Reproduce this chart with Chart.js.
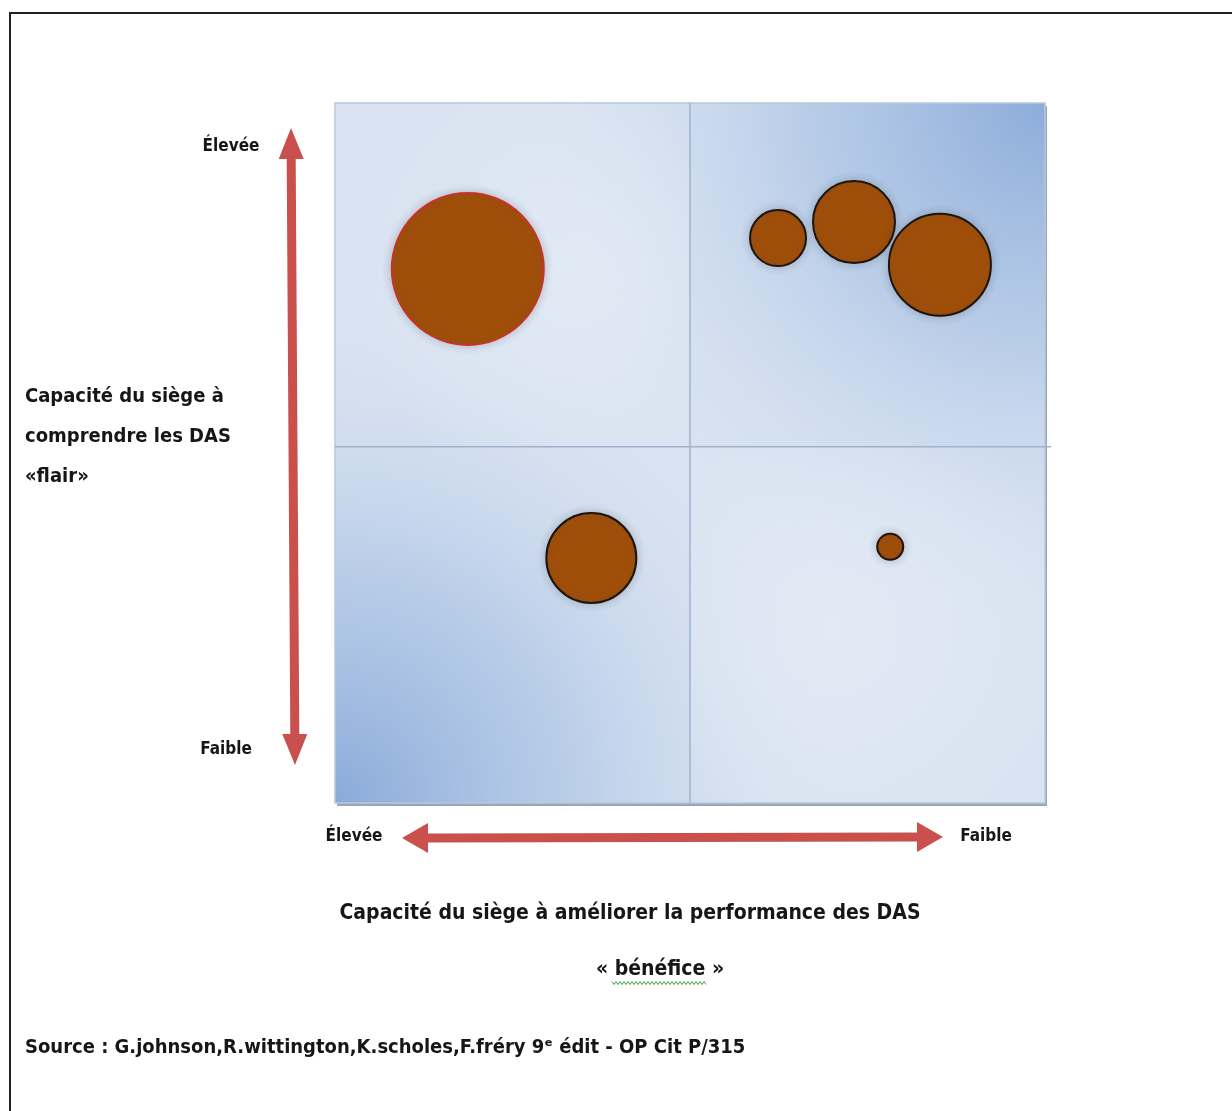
<!DOCTYPE html>
<html>
<head>
<meta charset="utf-8">
<title>Matrice parentale</title>
<script src="https://cdn.jsdelivr.net/npm/chart.js@4.4.1/dist/chart.umd.min.js"></script>
<style>
  html, body { margin: 0; padding: 0; background: #fff; }
  canvas { display: block; }
</style>
</head>
<body>
<canvas id="matrix" width="1232" height="1111"></canvas>
<script>
// DATA (bubble positions on a 0-10 grid, radius in px)
const bubbleX = [1.87, 6.24, 7.31, 8.52, 3.61, 7.82];
const bubbleY = [7.63, 8.07, 8.30, 7.69, 3.50, 3.66];
const bubbleR = [76, 28, 41, 51, 45, 13];

// quadrant split values
const splitX = 5;
const splitY = 5.09;

// texts
const yEndLabels = ["Élevée", "Faible"];
const xEndLabels = ["Élevée", "Faible"];
const yTitle = ["Capacité du siège à", "comprendre les DAS", "«flair»"];
const xTitle = ["Capacité du siège à améliorer la performance des DAS", "« bénéfice »"];
const sourceText = "Source : G.johnson,R.wittington,K.scholes,F.fréry 9\u1d49 édit - OP Cit P/315";

const FONT = '"Liberation Sans Narrow", "DejaVu Sans Condensed", Arial, sans-serif';
const ARROW_RED = "#c9504c";

let points = bubbleX.map((x, i) => ({ x: x, y: bubbleY[i], r: bubbleR[i] }));

// draw a double arrow between two points
function doubleArrow(ctx, x1, y1, x2, y2, shaft, headW, headL) {
  const ang = Math.atan2(y2 - y1, x2 - x1);
  const len = Math.hypot(x2 - x1, y2 - y1);
  ctx.save();
  ctx.translate(x1, y1);
  ctx.rotate(ang);
  ctx.fillStyle = ARROW_RED;
  ctx.beginPath();
  ctx.moveTo(0, 0);
  ctx.lineTo(headL, -headW / 2);
  ctx.lineTo(headL, -shaft / 2);
  ctx.lineTo(len - headL, -shaft / 2);
  ctx.lineTo(len - headL, -headW / 2);
  ctx.lineTo(len, 0);
  ctx.lineTo(len - headL, headW / 2);
  ctx.lineTo(len - headL, shaft / 2);
  ctx.lineTo(headL, shaft / 2);
  ctx.lineTo(headL, headW / 2);
  ctx.closePath();
  ctx.fill();
  ctx.restore();
}

// PLOT BACKGROUND + QUADRANTS
const matrixBackground = {
  id: "matrixBackground",
  beforeDatasetsDraw(chart) {
    const { ctx, chartArea: a, scales } = chart;
    const w = a.right - a.left, h = a.bottom - a.top;
    ctx.save();

    // shadow under the plot
    ctx.fillStyle = "#9aa6b6";
    ctx.fillRect(a.left + 2, a.bottom - 1, w, 4);
    ctx.fillRect(a.right - 1, a.top + 3, 3, h);

    ctx.fillStyle = "#d9e3f1";
    ctx.fillRect(a.left, a.top, w, h);

    let g = ctx.createRadialGradient(a.right, a.top, 0, a.right, a.top, w * 0.75);
    g.addColorStop(0, "rgba(140,172,218,1)");
    g.addColorStop(0.45, "rgba(170,195,228,0.7)");
    g.addColorStop(1, "rgba(217,227,241,0)");
    ctx.fillStyle = g;
    ctx.fillRect(a.left, a.top, w, h);

    g = ctx.createRadialGradient(a.left, a.bottom, 0, a.left, a.bottom, w * 0.72);
    g.addColorStop(0, "rgba(138,170,217,1)");
    g.addColorStop(0.45, "rgba(170,195,228,0.7)");
    g.addColorStop(1, "rgba(217,227,241,0)");
    ctx.fillStyle = g;
    ctx.fillRect(a.left, a.top, w, h);

    // light centres of the two pale quadrants
    const cx = scales.x.getPixelForValue(splitX);
    const cy = scales.y.getPixelForValue(splitY);
    g = ctx.createRadialGradient(a.left + w * 0.35, a.top + h * 0.25, 0, a.left + w * 0.35, a.top + h * 0.25, w * 0.32);
    g.addColorStop(0, "rgba(226,234,245,0.9)");
    g.addColorStop(1, "rgba(226,234,245,0)");
    ctx.fillStyle = g;
    ctx.fillRect(a.left, a.top, cx - a.left, cy - a.top);
    g = ctx.createRadialGradient(a.left + w * 0.7, a.top + h * 0.75, 0, a.left + w * 0.7, a.top + h * 0.75, w * 0.35);
    g.addColorStop(0, "rgba(226,234,245,0.95)");
    g.addColorStop(1, "rgba(226,234,245,0)");
    ctx.fillStyle = g;
    ctx.fillRect(cx, cy, a.right - cx, a.bottom - cy);

    ctx.strokeStyle = "#b9c8dc";
    ctx.lineWidth = 1.5;
    ctx.strokeRect(a.left, a.top, w, h);

    // quadrant lines
    ctx.strokeStyle = "#9fb2ca";
    ctx.lineWidth = 1.5;
    ctx.beginPath();
    ctx.moveTo(cx, a.top);
    ctx.lineTo(cx, a.bottom);
    ctx.moveTo(a.left, cy);
    ctx.lineTo(a.right + 6, cy);
    ctx.stroke();

    // soft shadow for the bubbles
    ctx.restore();
    ctx.save();
    ctx.shadowColor = "rgba(60,60,60,0.25)";
    ctx.shadowBlur = 8;
  },
  afterDatasetsDraw(chart) {
    chart.ctx.restore();
  }
};

// ARROWS + TEXT
const matrixDecor = {
  id: "matrixDecor",
  afterDraw(chart) {
    const { ctx, chartArea: a } = chart;
    ctx.save();

    // frame of the figure
    ctx.strokeStyle = "#222";
    ctx.lineWidth = 2;
    ctx.beginPath();
    ctx.moveTo(10, 1111);
    ctx.lineTo(10, 13);
    ctx.lineTo(1232, 13);
    ctx.stroke();

    // arrows
    doubleArrow(ctx, a.left - 44, a.top + 25, a.left - 40, a.bottom - 38, 9, 25, 31);
    doubleArrow(ctx, a.left + 67, a.bottom + 35, a.right - 102, a.bottom + 34, 9, 30, 26);

    ctx.fillStyle = "#161616";
    ctx.textBaseline = "middle";

    ctx.font = "bold 17px " + FONT;
    ctx.textAlign = "center";
    ctx.fillText(yEndLabels[0], 231, 147);
    ctx.fillText(yEndLabels[1], 226, 750);
    ctx.fillText(xEndLabels[0], 354, 837);
    ctx.fillText(xEndLabels[1], 986, 837);

    ctx.font = "bold 20px " + FONT;
    ctx.textAlign = "left";
    yTitle.forEach((t, i) => ctx.fillText(t, 25, 397 + i * 40));

    ctx.font = "bold 21px " + FONT;
    ctx.textAlign = "center";
    ctx.fillText(xTitle[0], 630, 914);
    ctx.fillText(xTitle[1], 660, 970);

    // spell-check squiggle under "bénéfice"
    ctx.strokeStyle = "#3aa33a";
    ctx.lineWidth = 1;
    ctx.beginPath();
    for (let x = 612, k = 0; x <= 706; x += 2, k++) {
      const y = 983 + (k % 2 ? 1.5 : -1.5);
      if (k === 0) ctx.moveTo(x, y); else ctx.lineTo(x, y);
    }
    ctx.stroke();

    ctx.font = "bold 20px " + FONT;
    ctx.textAlign = "left";
    ctx.fillText(sourceText, 25, 1048);

    ctx.restore();
  }
};

const chart = new Chart(document.getElementById("matrix"), {
  type: "bubble",
  data: {
    datasets: [{
      data: points,
      backgroundColor: "#a04f0a",
      borderColor: ctx => ctx.dataIndex === 0 ? "#c8322a" : "#1c1410",
      borderWidth: 2
    }]
  },
  options: {
    responsive: false,
    devicePixelRatio: 1,
    animation: false,
    events: [],
    layout: { padding: { left: 335, right: 187, top: 103, bottom: 308 } },
    plugins: {
      legend: { display: false },
      tooltip: { enabled: false }
    },
    scales: {
      x: { type: "linear", min: 0, max: 10, display: false },
      y: { type: "linear", min: 0, max: 10, display: false }
    }
  },
  plugins: [matrixBackground, matrixDecor]
});
</script>
</body>
</html>
